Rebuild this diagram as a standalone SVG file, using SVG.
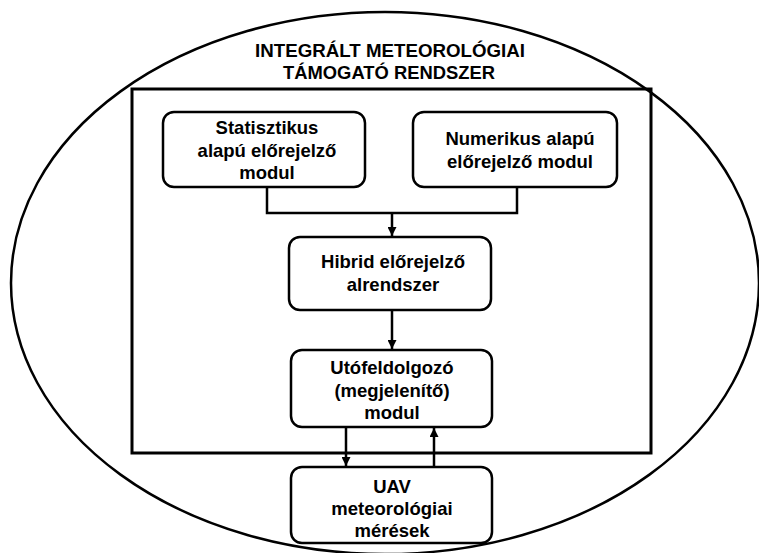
<svg xmlns="http://www.w3.org/2000/svg" width="759" height="553" viewBox="0 0 759 553">
  <style>
    .box { fill: #fff; stroke: #000; stroke-width: 2.5; }
    .lbl { font-family: "Liberation Sans", Arial, sans-serif; font-weight: bold; font-size: 18.5px; fill: #000; text-anchor: middle; }
    .ttl { font-family: "Liberation Sans Narrow", "Liberation Sans", Arial, sans-serif; font-weight: bold; font-size: 18px; fill: #000; text-anchor: middle; }
    .wire { fill: none; stroke: #000; stroke-width: 2.5; }
  </style>
  <defs>
    <marker id="arrow" viewBox="0 0 10 10" refX="10" refY="5" markerWidth="3.6" markerHeight="3.6" orient="auto">
      <path d="M0,0 L10,5 L0,10 z" fill="#000"/>
    </marker>
  </defs>
  <rect width="759" height="553" fill="#fff"/>

  <!-- outer system boundary -->
  <g id="system">
    <ellipse cx="385" cy="283" rx="374" ry="271" fill="none" stroke="#000" stroke-width="2.5"/>
    <text class="ttl" x="390" y="57" textLength="270" lengthAdjust="spacingAndGlyphs">INTEGRÁLT METEOROLÓGIAI</text>
    <text class="ttl" x="389" y="79" textLength="212" lengthAdjust="spacingAndGlyphs">TÁMOGATÓ RENDSZER</text>
    <rect x="132" y="89" width="519" height="364" fill="none" stroke="#000" stroke-width="3"/>
  </g>

  <g id="statisztikus">
    <rect class="box" x="163" y="112" width="202" height="75" rx="11"/>
    <text class="lbl" x="267" y="134">Statisztikus</text>
    <text class="lbl" x="267" y="157">alapú előrejelző</text>
    <text class="lbl" x="267" y="179">modul</text>
  </g>

  <g id="numerikus">
    <rect class="box" x="413" y="112" width="204" height="75" rx="11"/>
    <text class="lbl" x="520" y="145">Numerikus alapú</text>
    <text class="lbl" x="520" y="168">előrejelző modul</text>
  </g>

  <g id="hibrid">
    <rect class="box" x="289" y="237" width="202" height="73" rx="11"/>
    <text class="lbl" x="393" y="268">Hibrid előrejelző</text>
    <text class="lbl" x="393" y="291">alrendszer</text>
  </g>

  <g id="utofeldolgozo">
    <rect class="box" x="291" y="350" width="201" height="77" rx="11"/>
    <text class="lbl" x="392" y="374">Utófeldolgozó</text>
    <text class="lbl" x="392" y="397">(megjelenítő)</text>
    <text class="lbl" x="392" y="419">modul</text>
  </g>

  <g id="uav">
    <rect class="box" x="291" y="467" width="201" height="76" rx="11"/>
    <text class="lbl" x="392" y="493">UAV</text>
    <text class="lbl" x="392" y="515">meteorológiai</text>
    <text class="lbl" x="392" y="537">mérések</text>
  </g>

  <g id="connectors">
    <path class="wire" d="M267,187 V213 H517 V187"/>
    <path class="wire" d="M392,213 V236" marker-end="url(#arrow)"/>
    <path class="wire" d="M392,310 V349" marker-end="url(#arrow)"/>
    <path class="wire" d="M346,427 V466" marker-end="url(#arrow)"/>
    <path class="wire" d="M434,467 V428" marker-end="url(#arrow)"/>
  </g>
</svg>
